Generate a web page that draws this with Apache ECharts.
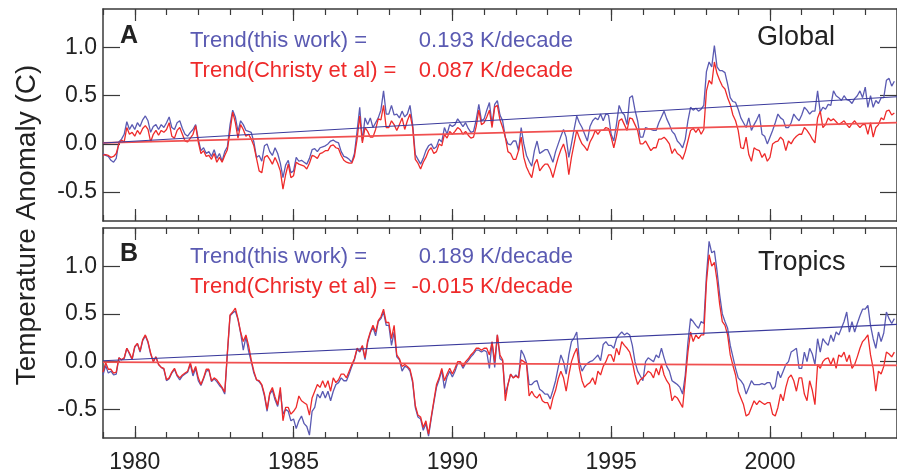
<!DOCTYPE html>
<html>
<head>
<meta charset="utf-8">
<script src="https://cdn.jsdelivr.net/npm/echarts@6/dist/echarts.min.js"></script>
<style>
  html, body { margin: 0; padding: 0; background: #fff; }
  #chart { width: 897px; height: 475px; }
</style>
</head>
<body>
<div id="chart"></div>
<script>
// monthly anomalies, Jan 1979 .. Dec 2003 (one row per year)
const startYear = 1979;
const endYear = 2004;
const labelYears = [1980, 1985, 1990, 1995, 2000];
const yTicks = [-0.5, 0.0, 0.5, 1.0];

const globalThisWork = [
  -0.10,-0.12,-0.13,-0.17,-0.19,-0.15,0.02,0.05,0.10,0.23,0.15,0.20,
  0.15,0.22,0.18,0.25,0.29,0.24,0.12,0.18,0.20,0.15,0.20,0.17,
  0.22,0.28,0.17,0.15,0.22,0.24,0.16,0.10,0.08,0.12,0.15,0.20,
  0.05,-0.07,-0.04,-0.10,-0.08,-0.13,-0.06,-0.15,-0.10,-0.18,-0.08,-0.03,
  0.20,0.35,0.28,0.13,0.24,0.20,0.14,0.13,0.12,0.02,-0.14,-0.12,
  -0.18,-0.02,0.00,-0.08,-0.12,-0.04,-0.10,-0.20,-0.35,-0.22,-0.17,-0.30,
  -0.28,-0.14,-0.18,-0.17,-0.19,-0.21,-0.15,-0.06,-0.05,-0.08,-0.04,-0.03,
  -0.02,0.00,0.03,0.04,0.02,0.01,-0.08,-0.13,-0.14,-0.16,-0.19,-0.10,
  0.13,0.38,0.03,0.27,0.20,0.27,0.17,0.22,0.27,0.35,0.55,0.31,
  0.31,0.40,0.30,0.31,0.27,0.34,0.28,0.31,0.40,0.20,-0.11,-0.16,
  -0.21,-0.15,-0.07,-0.02,0.00,-0.05,-0.03,0.05,0.02,0.17,0.10,0.20,
  0.18,0.20,0.26,0.22,0.18,0.22,0.16,0.12,0.13,0.25,0.41,0.24,
  0.26,0.35,0.43,0.20,0.41,0.45,0.30,0.24,0.07,0.00,-0.01,0.03,
  0.03,-0.07,0.17,0.00,-0.12,-0.18,-0.23,-0.07,0.03,-0.10,-0.08,-0.06,
  -0.06,-0.12,-0.19,-0.08,0.00,0.08,0.15,0.07,-0.14,0.00,0.15,0.29,
  0.22,0.17,0.10,0.03,0.18,0.24,0.27,0.25,0.31,0.24,0.31,0.30,
  0.10,0.03,0.20,0.40,0.33,0.30,0.20,0.48,0.50,0.35,0.24,0.07,
  0.07,0.17,0.16,0.15,0.14,0.14,0.22,0.28,0.34,0.26,0.20,0.13,
  0.10,0.03,0.00,-0.04,0.05,0.24,0.38,0.35,0.37,0.34,0.36,0.40,
  0.75,0.85,0.80,1.02,0.80,0.76,0.76,0.74,0.62,0.48,0.44,0.43,
  0.36,0.27,0.22,0.17,0.27,0.14,0.20,0.25,0.31,0.10,0.08,0.00,
  0.07,0.14,0.22,0.31,0.27,0.25,0.17,0.17,0.22,0.31,0.27,0.24,
  0.30,0.38,0.35,0.31,0.34,0.34,0.55,0.33,0.38,0.36,0.41,0.40,
  0.55,0.50,0.48,0.45,0.50,0.46,0.45,0.42,0.47,0.50,0.55,0.48,
  0.59,0.38,0.50,0.38,0.45,0.42,0.48,0.48,0.66,0.68,0.60,0.65
];

const globalChristy = [
  -0.12,-0.11,-0.12,-0.14,-0.13,-0.10,0.00,0.04,0.02,0.17,0.10,0.12,
  0.08,0.14,0.10,0.16,0.19,0.15,0.02,0.10,0.14,0.09,0.14,0.12,
  0.15,0.22,0.08,0.06,0.14,0.17,0.10,0.03,0.02,0.06,0.10,0.19,
  0.02,-0.10,-0.07,-0.13,-0.12,-0.16,-0.10,-0.19,-0.14,-0.19,-0.12,-0.06,
  0.13,0.33,0.22,0.06,0.20,0.15,0.08,0.10,0.05,-0.02,-0.15,-0.28,
  -0.30,-0.14,-0.12,-0.16,-0.21,-0.14,-0.20,-0.28,-0.47,-0.32,-0.21,-0.35,
  -0.33,-0.19,-0.21,-0.22,-0.23,-0.26,-0.20,-0.12,-0.13,-0.15,-0.10,-0.09,
  -0.07,-0.07,-0.02,-0.01,-0.04,-0.05,-0.12,-0.17,-0.19,-0.20,-0.20,-0.13,
  0.05,0.29,0.01,0.17,0.13,0.07,0.07,0.15,0.26,0.25,0.40,0.17,
  0.17,0.24,0.20,0.14,0.20,0.27,0.15,0.24,0.31,0.17,-0.16,-0.20,
  -0.26,-0.19,-0.14,-0.07,-0.04,-0.10,-0.08,0.00,-0.02,0.10,0.06,0.13,
  0.10,0.13,0.17,0.15,0.10,0.13,0.09,0.06,0.07,0.18,0.35,0.20,
  0.22,0.28,0.35,0.17,0.38,0.40,0.25,0.17,0.07,-0.08,-0.10,-0.16,
  -0.16,-0.07,0.07,-0.14,-0.24,-0.30,-0.35,-0.21,-0.16,-0.28,-0.24,-0.21,
  -0.21,-0.26,-0.35,-0.24,-0.14,-0.06,0.00,-0.10,-0.32,-0.14,0.00,0.14,
  0.06,0.00,-0.03,-0.07,0.02,0.07,0.14,0.10,0.14,0.14,0.17,0.16,
  0.07,-0.04,0.08,0.24,0.26,0.20,0.14,0.27,0.26,0.20,0.14,0.00,
  0.00,0.03,-0.02,-0.07,-0.04,-0.04,0.05,0.05,0.07,0.04,0.00,-0.10,
  -0.05,-0.10,-0.12,-0.16,-0.08,0.03,0.14,0.16,0.12,0.16,0.10,0.15,
  0.55,0.66,0.62,0.85,0.73,0.66,0.60,0.57,0.48,0.41,0.30,0.24,
  0.14,-0.04,-0.05,0.07,-0.11,-0.18,-0.04,-0.06,-0.07,-0.14,-0.10,-0.18,
  -0.14,0.00,0.02,0.03,0.07,0.04,-0.07,0.03,0.00,0.05,0.08,0.10,
  0.10,0.17,0.14,0.10,0.05,0.01,0.27,0.34,0.17,0.20,0.27,0.24,
  0.26,0.23,0.20,0.22,0.24,0.20,0.17,0.21,0.24,0.20,0.17,0.20,
  0.20,0.10,0.22,0.07,0.17,0.20,0.27,0.25,0.34,0.35,0.30,0.32
];

const tropicsThisWork = [
  -0.14,-0.04,-0.12,-0.10,-0.14,-0.13,0.04,0.02,0.03,0.14,0.08,0.02,
  0.15,0.19,0.10,0.22,0.27,0.20,0.08,0.00,0.05,-0.03,-0.06,-0.08,
  -0.20,-0.18,-0.12,-0.08,-0.15,-0.19,-0.15,-0.13,-0.11,-0.03,-0.15,-0.07,
  -0.20,-0.25,-0.18,-0.10,-0.09,-0.21,-0.18,-0.21,-0.25,-0.28,-0.34,0.08,
  0.48,0.51,0.53,0.44,0.30,0.12,0.26,0.11,0.00,-0.12,-0.19,-0.21,
  -0.25,-0.36,-0.52,-0.34,-0.30,-0.40,-0.47,-0.31,-0.55,-0.50,-0.52,-0.62,
  -0.60,-0.70,-0.62,-0.57,-0.65,-0.68,-0.77,-0.52,-0.48,-0.34,-0.38,-0.31,
  -0.38,-0.31,-0.41,-0.31,-0.24,-0.22,-0.17,-0.20,-0.20,-0.13,-0.05,0.02,
  0.13,0.10,0.16,0.02,0.20,0.30,0.36,0.27,0.42,0.45,0.52,0.38,
  0.38,0.17,0.31,0.05,0.02,-0.10,-0.05,-0.06,-0.10,-0.22,-0.48,-0.58,
  -0.60,-0.72,-0.65,-0.78,-0.60,-0.43,-0.27,-0.19,-0.09,-0.28,-0.16,-0.10,
  -0.16,-0.10,-0.02,-0.01,-0.07,-0.02,0.01,0.05,0.08,0.12,0.12,0.10,
  0.12,0.10,-0.07,0.20,-0.06,0.28,0.03,0.01,-0.34,-0.24,-0.13,-0.17,
  -0.14,-0.17,0.12,0.07,-0.01,-0.24,-0.24,-0.21,-0.20,-0.29,-0.31,-0.34,
  -0.34,-0.39,-0.30,-0.20,-0.06,0.07,0.00,-0.13,0.07,0.21,0.25,0.31,
  0.00,-0.10,-0.05,-0.02,0.00,0.01,0.04,0.07,0.01,0.18,0.21,0.17,
  0.17,0.14,0.24,0.28,0.31,0.28,0.30,0.28,0.17,0.00,-0.10,-0.15,
  -0.20,0.00,0.04,0.02,0.00,0.07,0.04,0.14,0.04,-0.05,-0.10,-0.20,
  -0.22,-0.24,-0.27,-0.34,-0.14,0.20,0.45,0.42,0.38,0.35,0.42,0.40,
  0.90,1.26,1.14,1.16,0.95,0.70,0.50,0.42,0.35,0.17,0.05,-0.07,
  -0.17,-0.20,-0.24,-0.34,-0.27,-0.20,-0.24,-0.24,-0.24,-0.23,-0.24,-0.22,
  -0.22,-0.29,-0.26,-0.10,-0.17,-0.10,-0.03,0.00,0.10,0.12,0.14,-0.07,
  -0.07,0.10,0.00,0.14,0.08,-0.03,0.24,0.10,0.24,0.20,0.17,0.28,
  0.21,0.31,0.28,0.35,0.42,0.52,0.31,0.42,0.31,0.40,0.48,0.55,
  0.55,0.59,0.38,0.24,0.14,0.31,0.21,0.30,0.52,0.45,0.40,0.45
];

const tropicsChristy = [
  -0.11,-0.01,-0.08,-0.08,-0.12,-0.11,0.04,0.02,0.04,0.14,0.09,0.03,
  0.16,0.19,0.11,0.23,0.28,0.21,0.09,0.00,0.05,-0.03,-0.06,-0.07,
  -0.19,-0.17,-0.11,-0.07,-0.14,-0.17,-0.14,-0.12,-0.10,-0.01,-0.12,-0.05,
  -0.17,-0.24,-0.17,-0.08,-0.08,-0.20,-0.17,-0.19,-0.23,-0.27,-0.32,0.10,
  0.49,0.52,0.56,0.45,0.31,0.21,0.28,0.17,0.02,-0.10,-0.19,-0.20,
  -0.24,-0.34,-0.50,-0.33,-0.27,-0.37,-0.45,-0.27,-0.62,-0.48,-0.48,-0.55,
  -0.52,-0.48,-0.36,-0.41,-0.43,-0.45,-0.56,-0.38,-0.31,-0.24,-0.27,-0.20,
  -0.27,-0.20,-0.31,-0.17,-0.22,-0.19,-0.13,-0.13,-0.17,-0.10,-0.03,0.03,
  0.14,0.11,0.17,0.04,0.22,0.31,0.38,0.31,0.43,0.47,0.55,0.41,
  0.41,0.24,0.38,0.07,0.03,-0.05,-0.03,-0.05,-0.08,-0.20,-0.46,-0.56,
  -0.58,-0.69,-0.62,-0.76,-0.58,-0.41,-0.24,-0.17,-0.07,-0.20,-0.13,-0.07,
  -0.13,-0.07,0.00,0.00,-0.05,0.00,0.03,0.07,0.10,0.14,0.14,0.12,
  0.14,0.14,0.07,0.21,0.00,0.28,0.07,0.02,-0.41,-0.24,-0.13,-0.17,
  -0.15,-0.17,0.02,0.00,-0.02,-0.36,-0.31,-0.36,-0.38,-0.34,-0.41,-0.43,
  -0.43,-0.50,-0.38,-0.30,-0.18,-0.10,-0.17,-0.31,-0.14,0.00,0.08,0.14,
  -0.07,-0.20,-0.27,-0.24,-0.22,-0.17,-0.24,-0.10,-0.14,-0.05,0.00,0.07,
  0.07,0.00,0.14,0.07,0.21,0.17,0.14,0.10,0.00,-0.14,-0.24,-0.19,
  -0.17,-0.14,-0.10,-0.12,-0.17,-0.07,-0.14,-0.03,-0.14,-0.20,-0.24,-0.41,
  -0.36,-0.38,-0.43,-0.48,-0.20,0.10,0.31,0.21,0.28,0.24,0.28,0.28,
  0.83,1.12,1.00,1.04,0.85,0.60,0.42,0.38,0.28,0.07,-0.04,-0.14,
  -0.31,-0.38,-0.45,-0.57,-0.55,-0.48,-0.41,-0.45,-0.41,-0.43,-0.45,-0.43,
  -0.43,-0.55,-0.57,-0.48,-0.34,-0.41,-0.27,-0.17,-0.14,-0.20,-0.31,-0.17,
  -0.17,-0.34,-0.41,-0.20,-0.30,-0.45,-0.03,-0.07,0.00,0.03,0.04,-0.03,
  0.04,-0.07,0.07,0.05,0.10,0.00,0.07,-0.07,-0.03,0.05,0.14,0.21,
  0.24,0.28,0.07,-0.07,-0.31,-0.10,-0.13,-0.05,0.10,0.08,0.05,0.10
];

// linear trend lines, value at start and end of the period
const trendYears = [1979, 2004];
const globalTrendThisWork = [0.01, 0.49];
const globalTrendChristy = [0.01, 0.22];
const tropicsTrendThisWork = [0.01, 0.39];
const tropicsTrendChristy = [-0.005, -0.04];

const BLUE = "#5a5ab2";
const BLUE_TREND = "#3a3a9c";
const RED = "#ee2a2a";
const RED_TREND = "#f05050";
const FONT = "'Liberation Sans', Arial, Helvetica, sans-serif";
const FRAME = "#3a3a3a";

function monthly(vals) {
  return vals.map((v, i) => [startYear + i / 12, v]);
}
function trend(vals) {
  return trendYears.map((y, i) => [y, vals[i]]);
}

function xAxisFor(g, position, major, labels) {
  return {
    type: "value",
    gridIndex: g,
    position: position,
    min: startYear,
    max: endYear,
    interval: 1,
    axisLine: { show: major, onZero: false, lineStyle: { color: FRAME, width: 1.5 } },
    axisTick: major
      ? { show: true, inside: true, length: 12, customValues: labelYears, lineStyle: { color: FRAME, width: 1.2 } }
      : { show: true, inside: true, length: 6, lineStyle: { color: FRAME, width: 1.2 } },
    axisLabel: labels
      ? {
          show: true,
          customValues: labelYears,
          margin: 13,
          fontSize: 23,
          color: "#222",
          fontFamily: FONT,
          formatter: (v) => String(v),
        }
      : { show: false },
    splitLine: { show: false },
  };
}

function yAxisFor(g, position, labels) {
  return {
    type: "value",
    gridIndex: g,
    position: position,
    min: -0.8,
    max: 1.4,
    axisLine: { show: true, onZero: false, lineStyle: { color: FRAME, width: 1.5 } },
    axisTick: { show: true, inside: true, length: 17, customValues: yTicks, lineStyle: { color: FRAME, width: 1.2 } },
    axisLabel: labels
      ? {
          show: true,
          customValues: yTicks,
          margin: 6,
          fontSize: 23,
          color: "#222",
          fontFamily: FONT,
          formatter: (v) => v.toFixed(1),
        }
      : { show: false },
    splitLine: { show: false },
  };
}

function lineSeries(g, data, color, width, z) {
  return {
    type: "line",
    xAxisIndex: g * 4,
    yAxisIndex: g * 2,
    data: data,
    showSymbol: false,
    symbol: "none",
    lineStyle: { color: color, width: width },
    z: z,
    silent: true,
  };
}

function txt(x, y, s, color, size, align, weight) {
  return {
    type: "text",
    x: x,
    y: y,
    style: {
      text: s,
      fill: color,
      font: (weight || "normal") + " " + size + "px " + FONT,
      textAlign: align || "left",
      textVerticalAlign: "middle",
    },
    z: 100,
  };
}

const chart = echarts.init(document.getElementById("chart"), null, { renderer: "canvas" });

const option = {
  animation: false,
  backgroundColor: "#fff",
  grid: [
    { left: 103, top: 9, width: 801, height: 212 },
    { left: 103, top: 228, width: 801, height: 210 },
  ],
  xAxis: [
    xAxisFor(0, "bottom", true, false),
    xAxisFor(0, "bottom", false, false),
    xAxisFor(0, "top", true, false),
    xAxisFor(0, "top", false, false),
    xAxisFor(1, "bottom", true, true),
    xAxisFor(1, "bottom", false, false),
    xAxisFor(1, "top", true, false),
    xAxisFor(1, "top", false, false),
  ],
  yAxis: [
    yAxisFor(0, "left", true),
    yAxisFor(0, "right", false),
    yAxisFor(1, "left", true),
    yAxisFor(1, "right", false),
  ],
  series: [
    lineSeries(0, monthly(globalThisWork), BLUE, 1.3, 2),
    lineSeries(0, monthly(globalChristy), RED, 1.3, 3),
    lineSeries(0, trend(globalTrendChristy), RED_TREND, 1.8, 4),
    lineSeries(0, trend(globalTrendThisWork), BLUE_TREND, 1.1, 5),
    lineSeries(1, monthly(tropicsThisWork), BLUE, 1.3, 2),
    lineSeries(1, monthly(tropicsChristy), RED, 1.3, 3),
    lineSeries(1, trend(tropicsTrendChristy), RED_TREND, 1.8, 4),
    lineSeries(1, trend(tropicsTrendThisWork), BLUE_TREND, 1.1, 5),
  ],
  graphic: [
    txt(120, 36, "A", "#222", 25, "left", "bold"),
    txt(190, 41, "Trend(this work) =", BLUE, 22),
    txt(573, 41, "0.193 K/decade", BLUE, 22, "right"),
    txt(190, 71, "Trend(Christy et al) =", RED, 22),
    txt(573, 71, "0.087 K/decade", RED, 22, "right"),
    txt(757, 38, "Global", "#222", 27),
    txt(120, 254, "B", "#222", 25, "left", "bold"),
    txt(190, 257, "Trend(this work) =", BLUE, 22),
    txt(573, 257, "0.189 K/decade", BLUE, 22, "right"),
    txt(190, 287, "Trend(Christy et al) =", RED, 22),
    txt(573, 287, "-0.015 K/decade", RED, 22, "right"),
    txt(758, 263, "Tropics", "#222", 27),
    {
      type: "text",
      x: 27,
      y: 225,
      rotation: Math.PI / 2,
      style: {
        text: "Temperature Anomaly (C)",
        fill: "#222",
        font: "normal 28px " + FONT,
        textAlign: "center",
        textVerticalAlign: "middle",
      },
      z: 100,
    },
  ],
};

chart.setOption(option);
</script>
</body>
</html>
